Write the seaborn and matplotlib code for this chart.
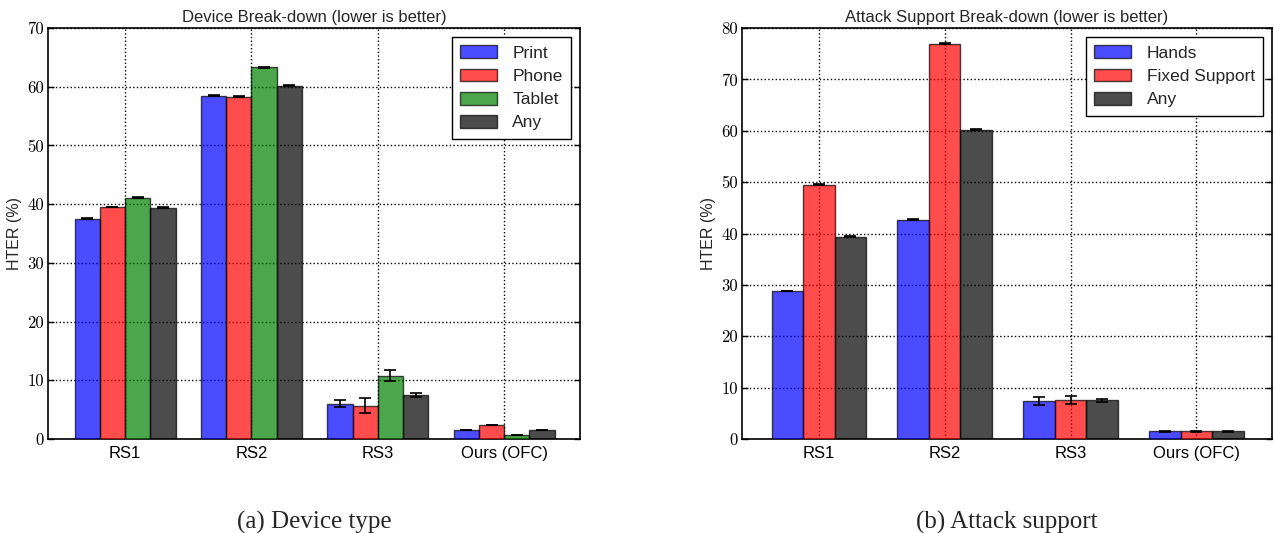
import matplotlib
matplotlib.use("Agg")
import matplotlib.pyplot as plt
import seaborn as sns
import pandas as pd
import numpy as np
from matplotlib.patches import Patch

# ---- data ----
methods = ["RS1", "RS2", "RS3", "Ours (OFC)"]

device_levels = ["Print", "Phone", "Tablet", "Any"]
device_print = [37.5, 58.5, 6.0, 1.5]
device_phone = [39.5, 58.3, 5.7, 2.4]
device_tablet = [41.1, 63.3, 10.8, 0.7]
device_any = [39.4, 60.2, 7.5, 1.5]
device_print_err = [0.1, 0.1, 0.6, 0.05]
device_phone_err = [0.05, 0.05, 1.3, 0.05]
device_tablet_err = [0.05, 0.05, 0.9, 0.05]
device_any_err = [0.05, 0.1, 0.3, 0.05]

support_levels = ["Hands", "Fixed Support", "Any"]
support_hands = [28.8, 42.7, 7.4, 1.5]
support_fixed = [49.5, 76.9, 7.6, 1.5]
support_any = [39.4, 60.2, 7.5, 1.5]
support_hands_err = [0.05, 0.1, 0.8, 0.05]
support_fixed_err = [0.1, 0.1, 0.8, 0.05]
support_any_err = [0.05, 0.1, 0.3, 0.05]

device_colors = ["#0000ff", "#ff0000", "#008000", "#000000"]
support_colors = ["#0000ff", "#ff0000", "#000000"]

sns.set_style("white")
plt.rcParams['font.family'] = ['Liberation Sans', 'DejaVu Sans']

fig = plt.figure(figsize=(12.74, 5.33), dpi=100)
W, H = 1274, 533
ax1 = fig.add_axes([48 / W, (H - 439) / H, 532 / W, 411 / H])
ax2 = fig.add_axes([742 / W, (H - 439) / H, 530 / W, 411 / H])


def make_df(levels, series):
    rows = []
    for lvl, vals in zip(levels, series):
        for m, v in zip(methods, vals):
            rows.append({"method": m, "group": lvl, "HTER": v})
    return pd.DataFrame(rows)


def draw(ax, levels, series, errs, colors, width, ymax, title):
    df = make_df(levels, series)
    sns.barplot(data=df, x="method", y="HTER", hue="group", order=methods,
                hue_order=levels, palette=colors, saturation=1, width=width,
                gap=0, errorbar=None, alpha=0.7, edgecolor="black",
                linewidth=1.0, ax=ax, zorder=3)
    # error bars at bar positions
    for cont, err in zip(ax.containers, errs):
        xs = [p.get_x() + p.get_width() / 2 for p in cont.patches]
        ys = [p.get_height() for p in cont.patches]
        ax.errorbar(xs, ys, yerr=err, fmt="none", ecolor="black",
                    elinewidth=1.2, capsize=4, capthick=1.2, zorder=4)
    ax.set_xlim(-0.61, 3.6)
    ax.set_ylim(0, ymax)
    ax.set_yticks(np.arange(0, ymax + 1, 10))
    ax.set_yticklabels([str(v) for v in range(0, ymax + 1, 10)],
                       fontfamily="cmr10", fontsize=12)
    ax.set_xticks(range(len(methods)))
    ax.set_xticklabels(methods, fontsize=12)
    ax.set_xlabel("")
    ax.set_ylabel("HTER (%)", fontsize=11.5, labelpad=4)
    ax.set_title(title, fontsize=12, pad=4)
    ax.grid(True, linestyle=":", color="black", linewidth=1.0, zorder=0)
    ax.set_axisbelow(True)
    for s in ax.spines.values():
        s.set_visible(True)
        s.set_color("black")
        s.set_linewidth(1.2)
    ax.tick_params(axis="both", direction="in", length=4, width=1,
                   right=True, top=True, left=True, bottom=True,
                   colors="black")
    ax.tick_params(axis="y", pad=3)
    ax.tick_params(axis="x", length=0, pad=5)
    leg = ax.get_legend()
    if leg is not None:
        leg.remove()
    handles = [Patch(facecolor=c, edgecolor="black", alpha=0.7, linewidth=1.0)
               for c in colors]
    lg = ax.legend(handles, levels, loc="upper right", fontsize=12.5,
                   frameon=True, fancybox=False, shadow=False,
                   handlelength=2.1, handleheight=0.75, handletextpad=0.9,
                   labelspacing=0.45, borderpad=0.5, borderaxespad=0.5)
    lg.get_frame().set_edgecolor("black")
    lg.get_frame().set_linewidth(1.0)
    lg.get_frame().set_alpha(1)


draw(ax1, device_levels,
     [device_print, device_phone, device_tablet, device_any],
     [device_print_err, device_phone_err, device_tablet_err, device_any_err],
     device_colors, 0.8, 70, "Device Break-down (lower is better)")
draw(ax2, support_levels,
     [support_hands, support_fixed, support_any],
     [support_hands_err, support_fixed_err, support_any_err],
     support_colors, 0.75, 80, "Attack Support Break-down (lower is better)")

fig.text(314 / W, (H - 522) / H, "(a) Device type", ha="center", va="center",
         fontfamily="Liberation Serif", fontsize=18)
fig.text(1007 / W, (H - 522) / H, "(b) Attack support", ha="center",
         va="center", fontfamily="Liberation Serif", fontsize=18)

fig.savefig("out.png", dpi=100)
